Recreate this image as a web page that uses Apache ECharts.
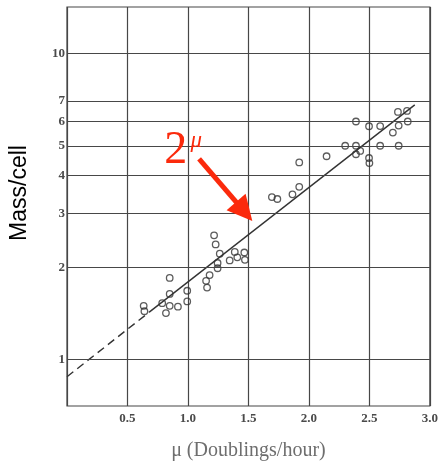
<!DOCTYPE html>
<html>
<head>
<meta charset="utf-8">
<script src="https://cdn.jsdelivr.net/npm/echarts@6/dist/echarts.min.js"></script>
<style>
  html, body { margin: 0; padding: 0; background: #ffffff; }
  #chart { width: 441px; height: 466px; }
</style>
</head>
<body>
<div id="chart"></div>
<script>
// Growth rate (doublings per hour) of each measured culture
const growthRate = [
  0.634, 0.640, 0.787, 0.818, 0.849, 0.849, 0.849, 0.917, 0.994, 0.994,
  1.150, 1.158, 1.179, 1.216, 1.229, 1.263, 1.245, 1.245, 1.345, 1.387, 1.408, 1.466, 1.471,
  1.694, 1.739, 1.864, 1.920, 1.920, 2.146,
  2.300, 2.389, 2.389, 2.389, 2.424, 2.497, 2.497, 2.500, 2.589, 2.589, 2.694, 2.736, 2.742, 2.742, 2.811, 2.817
];
// Mass per cell measured for each culture
const massPerCell = [
  1.50, 1.44, 1.53, 1.42, 1.85, 1.64, 1.50, 1.49, 1.68, 1.55,
  1.81, 1.72, 1.89, 2.55, 2.38, 2.22, 2.07, 1.99, 2.11, 2.25, 2.16, 2.24, 2.12,
  3.40, 3.35, 3.47, 3.67, 4.41, 4.62,
  5.00, 6.00, 5.00, 4.69, 4.81, 5.79, 4.56, 4.39, 5.80, 5.00, 5.52, 6.45, 5.82, 5.00, 6.50, 6.00
];

// Fitted 2^μ line: extrapolated (dashed) part and fitted (solid) part
const fitExtrapolatedMu = [0, 0.68];
const fitExtrapolatedMass = [0.88, 1.43];
const fitMu = [0.68, 2.875];
const fitMass = [1.43, 6.8];

// Labelled horizontal rules on the logarithmic mass axis
const massTicks = [1, 2, 3, 4, 5, 6, 7, 10];

// Annotation: "2^μ" label and the arrow pointing at the fit line
const arrowFrom = [1.092, 4.53];
const arrowTo = [1.465, 3.05];
const labelBase = [0.90, 4.82];
const labelExponent = [1.068, 5.20];

const GRID_COLOR = '#474747';
const RED = '#fb2a0c';

const zip = (xs, ys) => xs.map((x, i) => [x, ys[i]]);

const chart = echarts.init(document.getElementById('chart'), null, { renderer: 'canvas' });

chart.setOption({
  animation: false,
  backgroundColor: '#ffffff',
  grid: {
    left: 66, right: 7, top: 7, bottom: 58,
    show: true,
    borderColor: GRID_COLOR,
    borderWidth: 1.2,
    backgroundColor: 'transparent'
  },
  xAxis: {
    type: 'value',
    min: 0, max: 3, interval: 0.5,
    axisLine: { show: false },
    axisTick: { show: false },
    axisLabel: {
      margin: 6,
      fontFamily: 'Liberation Serif',
      fontWeight: 'bold',
      fontSize: 13,
      color: '#4a4a4a',
      formatter: v => (v === 0 ? '' : v.toFixed(1))
    },
    splitLine: { show: true, lineStyle: { color: GRID_COLOR, width: 1.2 } },
    name: 'μ (Doublings/hour)',
    nameLocation: 'middle',
    nameGap: 35,
    nameTextStyle: { fontFamily: 'Liberation Serif', fontSize: 20, color: '#6e6e6e' }
  },
  yAxis: {
    type: 'log',
    logBase: 10,
    min: 0.706, max: 14.2,
    axisLine: { show: false },
    axisTick: { show: false },
    axisLabel: { show: false },
    splitLine: { show: false },
    name: 'Mass/cell',
    nameLocation: 'middle',
    nameRotate: 90,
    nameGap: 36,
    nameTextStyle: {
      fontFamily: 'Liberation Sans', fontSize: 23, color: '#000000',
      padding: [0, 0, 0, 27]
    }
  },
  series: [
    {
      // horizontal rules with their value labels
      type: 'line',
      data: [],
      z: 1,
      silent: true,
      markLine: {
        silent: true,
        symbol: 'none',
        animation: false,
        lineStyle: { color: GRID_COLOR, width: 1.2, type: 'solid' },
        label: {
          show: true,
          position: 'start',
          distance: 2,
          fontFamily: 'Liberation Serif',
          fontWeight: 'bold',
          fontSize: 13,
          color: '#4a4a4a',
          formatter: p => String(p.value)
        },
        data: massTicks.map(v => ({ yAxis: v }))
      }
    },
    {
      type: 'line',
      data: zip(fitExtrapolatedMu, fitExtrapolatedMass),
      symbol: 'none',
      z: 2,
      lineStyle: { color: '#333333', width: 1.4, type: [8, 5] }
    },
    {
      type: 'line',
      data: zip(fitMu, fitMass),
      symbol: 'none',
      z: 2,
      lineStyle: { color: '#333333', width: 1.4 }
    },
    {
      type: 'scatter',
      data: zip(growthRate, massPerCell),
      symbol: 'circle',
      symbolSize: 6.5,
      z: 3,
      itemStyle: { color: 'rgba(255,255,255,0)', borderColor: '#333333', borderWidth: 1.3 }
    },
    {
      // "2^μ" annotation with arrow
      type: 'scatter',
      data: [],
      z: 4,
      silent: true,
      markLine: {
        silent: true,
        animation: false,
        symbol: ['none', 'triangle'],
        symbolSize: 25,
        lineStyle: { color: RED, width: 5, type: 'solid' },
        itemStyle: { color: RED },
        label: { show: false },
        data: [[{ coord: arrowFrom }, { coord: arrowTo }]]
      },
      markPoint: {
        silent: true,
        animation: false,
        symbol: 'circle',
        symbolSize: 1,
        itemStyle: { color: 'rgba(0,0,0,0)' },
        data: [
          {
            coord: labelBase,
            label: {
              show: true, position: 'inside', formatter: '2',
              fontFamily: 'Liberation Serif', fontSize: 46, color: RED
            }
          },
          {
            coord: labelExponent,
            label: {
              show: true, position: 'inside', formatter: 'μ',
              fontFamily: 'Liberation Serif', fontStyle: 'italic', fontSize: 23, color: RED
            }
          }
        ]
      }
    }
  ]
});
</script>
</body>
</html>
